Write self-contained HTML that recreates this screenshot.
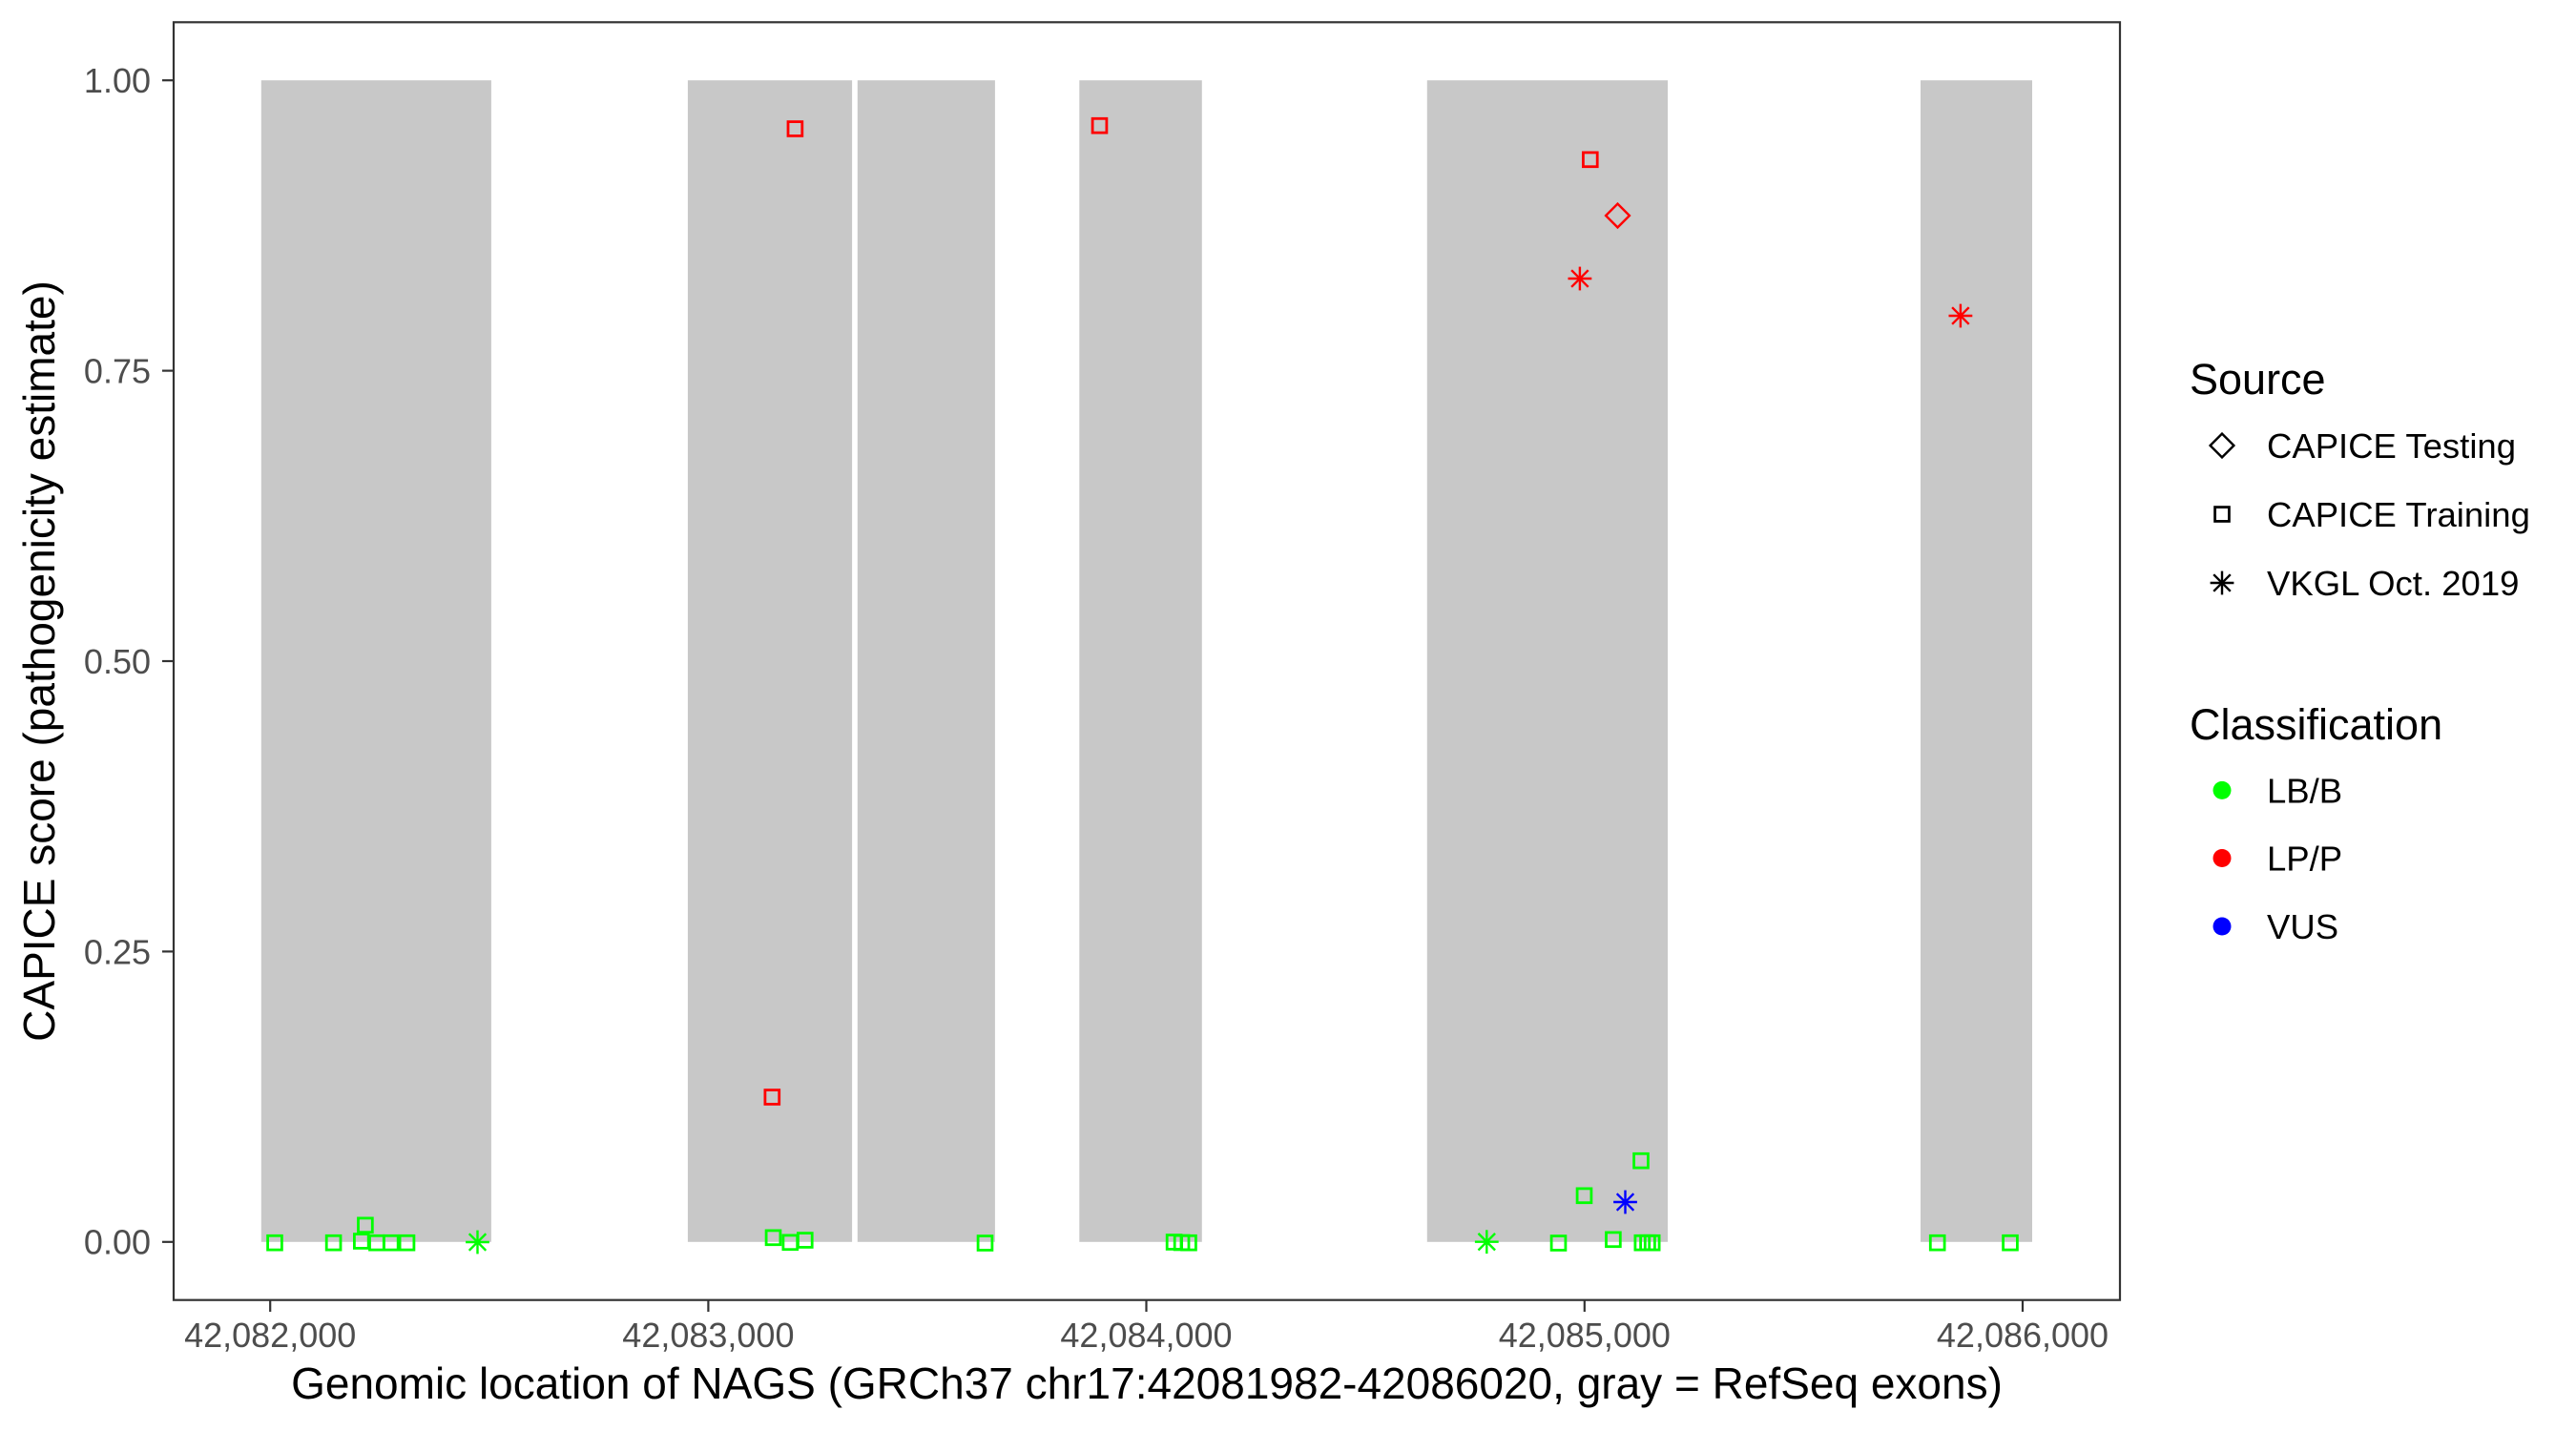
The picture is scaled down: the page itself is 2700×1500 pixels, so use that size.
<!DOCTYPE html>
<html><head><meta charset="utf-8"><style>
html,body{margin:0;padding:0;background:#fff;}
svg{display:block;}
text{font-family:"Liberation Sans",Arial,sans-serif;}
</style></head><body>
<svg width="2700" height="1500" viewBox="0 0 2700 1500" xmlns="http://www.w3.org/2000/svg">
<defs>
<g id="sq"><rect x="-7.4" y="-7.4" width="14.8" height="14.8" fill="none" stroke-width="2.8"/></g>
<g id="ast"><line x1="0" y1="-12.4" x2="0" y2="12.4"/><line x1="-12.4" y1="0" x2="12.4" y2="0"/><line x1="-8.8" y1="-8.8" x2="8.8" y2="8.8"/><line x1="-8.8" y1="8.8" x2="8.8" y2="-8.8"/></g>
<g id="dia"><polygon points="0,-12.4 12.4,0 0,12.4 -12.4,0" fill="none"/></g>
</defs>
<rect width="2700" height="1500" fill="#fff"/>
<g fill="#c8c8c8">
<rect x="273.8" y="84.2" width="241.1" height="1217.6"/>
<rect x="720.9" y="84.2" width="172.2" height="1217.6"/>
<rect x="898.8" y="84.2" width="144.1" height="1217.6"/>
<rect x="1131.3" y="84.2" width="128.5" height="1217.6"/>
<rect x="1495.8" y="84.2" width="252.2" height="1217.6"/>
<rect x="2013" y="84.2" width="117" height="1217.6"/>
</g>
<g stroke="#00ff00" fill="none" stroke-width="2.8">
<use href="#sq" x="288" y="1302.7"/>
<use href="#sq" x="349.6" y="1302.7"/>
<use href="#sq" x="378.8" y="1301"/>
<use href="#sq" x="382.9" y="1284.3"/>
<use href="#sq" x="394.9" y="1302.7"/>
<use href="#sq" x="409.8" y="1302.7"/>
<use href="#sq" x="426.5" y="1302.7"/>
<use href="#sq" x="810.5" y="1297.3"/>
<use href="#sq" x="828.3" y="1302.3"/>
<use href="#sq" x="843.8" y="1300"/>
<use href="#sq" x="1032.5" y="1303"/>
<use href="#sq" x="1230.6" y="1302"/>
<use href="#sq" x="1238.6" y="1302.5"/>
<use href="#sq" x="1246" y="1302.7"/>
<use href="#sq" x="1633.5" y="1303"/>
<use href="#sq" x="1660.5" y="1253.3"/>
<use href="#sq" x="1720" y="1216.7"/>
<use href="#sq" x="1690.9" y="1299.3"/>
<use href="#sq" x="1721.3" y="1302.7"/>
<use href="#sq" x="1727" y="1302.7"/>
<use href="#sq" x="1731.7" y="1302.7"/>
<use href="#sq" x="2030.7" y="1302.7"/>
<use href="#sq" x="2107" y="1302.7"/>
</g>
<g stroke="#00ff00" stroke-width="2.4">
<use href="#ast" x="500.5" y="1302"/>
<use href="#ast" x="1558.3" y="1301.7"/>
</g>
<g stroke="#0000ff" stroke-width="2.4">
<use href="#ast" x="1703.5" y="1260"/>
</g>
<g stroke="#ff0000" fill="none" stroke-width="2.8">
<use href="#sq" x="833.4" y="135"/>
<use href="#sq" x="809.3" y="1150"/>
<use href="#sq" x="1152.5" y="131.7"/>
<use href="#sq" x="1666.8" y="167.3"/>
</g>
<g stroke="#ff0000" stroke-width="2.4" fill="none">
<use href="#dia" x="1695.5" y="226"/>
<use href="#ast" x="1655.9" y="292"/>
<use href="#ast" x="2054.9" y="331"/>
</g>
<rect x="182" y="23.3" width="2040" height="1339.4" fill="none" stroke="#333" stroke-width="2.2"/>
<g stroke="#333" stroke-width="2.2">
<line x1="170" y1="84.2" x2="182" y2="84.2"/>
<line x1="170" y1="388.6" x2="182" y2="388.6"/>
<line x1="170" y1="693" x2="182" y2="693"/>
<line x1="170" y1="997.4" x2="182" y2="997.4"/>
<line x1="170" y1="1301.8" x2="182" y2="1301.8"/>
<line x1="283.2" y1="1363" x2="283.2" y2="1375"/>
<line x1="742.4" y1="1363" x2="742.4" y2="1375"/>
<line x1="1201.5" y1="1363" x2="1201.5" y2="1375"/>
<line x1="1660.8" y1="1363" x2="1660.8" y2="1375"/>
<line x1="2120" y1="1363" x2="2120" y2="1375"/>
</g>
<g fill="#4d4d4d" font-size="36" text-anchor="end">
<text x="158" y="97">1.00</text>
<text x="158" y="401.5">0.75</text>
<text x="158" y="706">0.50</text>
<text x="158" y="1010.3">0.25</text>
<text x="158" y="1314.7">0.00</text>
</g>
<g fill="#4d4d4d" font-size="36" text-anchor="middle">
<text x="283.2" y="1412">42,082,000</text>
<text x="742.4" y="1412">42,083,000</text>
<text x="1201.5" y="1412">42,084,000</text>
<text x="1660.8" y="1412">42,085,000</text>
<text x="2120" y="1412">42,086,000</text>
</g>
<text x="1202" y="1466" font-size="46" text-anchor="middle" fill="#000">Genomic location of NAGS (GRCh37 chr17:42081982-42086020, gray = RefSeq exons)</text>
<text transform="translate(57,693) rotate(-90)" font-size="46" text-anchor="middle" fill="#000">CAPICE score (pathogenicity estimate)</text>
<text x="2295" y="413" font-size="45" fill="#000">Source</text>
<g stroke="#000" stroke-width="2.4" fill="none">
<use href="#dia" x="2329" y="467"/>
<use href="#sq" x="2329" y="539"/>
<use href="#ast" x="2329" y="611"/>
</g>
<g font-size="36.5" fill="#000">
<text x="2376" y="480">CAPICE Testing</text>
<text x="2376" y="552">CAPICE Training</text>
<text x="2376" y="624">VKGL Oct. 2019</text>
</g>
<text x="2295" y="775" font-size="45" fill="#000">Classification</text>
<circle cx="2329" cy="828.4" r="9.5" fill="#00ff00"/>
<circle cx="2329" cy="899.5" r="9.5" fill="#ff0000"/>
<circle cx="2329" cy="971" r="9.5" fill="#0000ff"/>
<g font-size="36.5" fill="#000">
<text x="2376" y="841.3">LB/B</text>
<text x="2376" y="912.4">LP/P</text>
<text x="2376" y="984">VUS</text>
</g>
</svg>
</body></html>
